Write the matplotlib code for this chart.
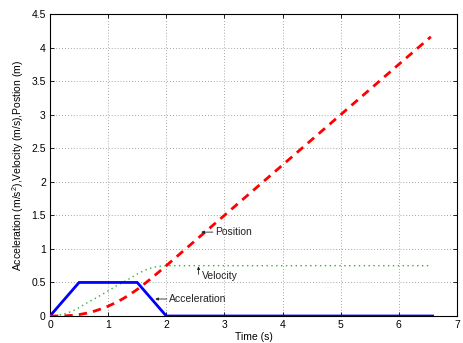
import matplotlib
matplotlib.use("Agg")
import matplotlib.pyplot as plt

plt.rcParams["font.family"] = ["Liberation Sans", "DejaVu Sans"]
plt.rcParams["mathtext.fontset"] = "custom"
plt.rcParams["mathtext.rm"] = "Liberation Sans"
plt.rcParams["mathtext.it"] = "Liberation Sans:italic"

# values
t_acc = [0, 0.5, 1.5, 2.0, 6.58]
acc = [0, 0.5, 0.5, 0, 0]

t_kin = [0, 0.125, 0.25, 0.375, 0.5, 0.625, 0.75, 0.875, 1.0, 1.125, 1.25, 1.375,
         1.5, 1.625, 1.75, 1.875, 2.0, 3.0, 4.0, 5.0, 6.0, 6.55]
vel = [0, 0.008, 0.031, 0.07, 0.125, 0.19, 0.25, 0.31, 0.375, 0.44, 0.5, 0.56,
       0.625, 0.68, 0.72, 0.74, 0.75, 0.75, 0.75, 0.75, 0.75, 0.75]
pos = [0, 0.0003, 0.0026, 0.009, 0.021, 0.041, 0.069, 0.104, 0.146, 0.197, 0.255, 0.321,
       0.396, 0.479, 0.567, 0.658, 0.75, 1.5, 2.25, 3.0, 3.75, 4.16]

xticks = [0, 1, 2, 3, 4, 5, 6, 7]
yticks = [0, 0.5, 1, 1.5, 2, 2.5, 3, 3.5, 4, 4.5]
ytick_labels = ["0", "0.5", "1", "1.5", "2", "2.5", "3", "3.5", "4", "4.5"]

fig = plt.figure(figsize=(4.63, 3.43), dpi=100)
ax = fig.add_axes([50 / 463, 1 - 316 / 343, 407 / 463, 302 / 343])

ax.plot(t_acc, acc, color="#0000ff", lw=2.0, zorder=3)
ax.plot(t_kin, vel, color="#33b033", lw=1.0, ls=(0, (1, 2.5)), zorder=2)
ax.plot(t_kin, pos, color="#ff0000", lw=2.0, ls=(0, (3, 2.2)), zorder=4)


def note(x0, y0, x1, y1, tx, ty, s):
    ax.annotate("", xy=(x1, y1), xytext=(x0, y0),
                arrowprops=dict(arrowstyle="-|>", color="#222222", lw=0.6,
                                mutation_scale=4, shrinkA=0, shrinkB=0), zorder=5)
    ax.text(tx, ty, s, fontsize=7.5, va="center", ha="left", color="#222222")


note(2.80, 1.25, 2.60, 1.25, 2.84, 1.25, "Position")
note(2.555, 0.62, 2.555, 0.74, 2.61, 0.60, "Velocity")
note(2.01, 0.253, 1.81, 0.253, 2.05, 0.253, "Acceleration")

ax.set_xlim(0, 7)
ax.set_ylim(0, 4.5)
ax.set_xticks(xticks)
ax.set_yticks(yticks)
ax.set_yticklabels(ytick_labels)
ax.tick_params(direction="in", top=True, right=True, labelsize=7.5, length=3,
               width=0.6, pad=3)
ax.grid(True, color="#888888", ls=(0, (1, 2.5)), lw=0.6)
for s in ax.spines.values():
    s.set_linewidth(0.8)

ax.set_xlabel("Time (s)", fontsize=7.5, labelpad=1)
ax.set_ylabel("Acceleration (m/s$^2$),Velocity (m/s),Postion (m)", fontsize=7.5,
              labelpad=4)

fig.savefig("out.png", dpi=100, facecolor="white")
